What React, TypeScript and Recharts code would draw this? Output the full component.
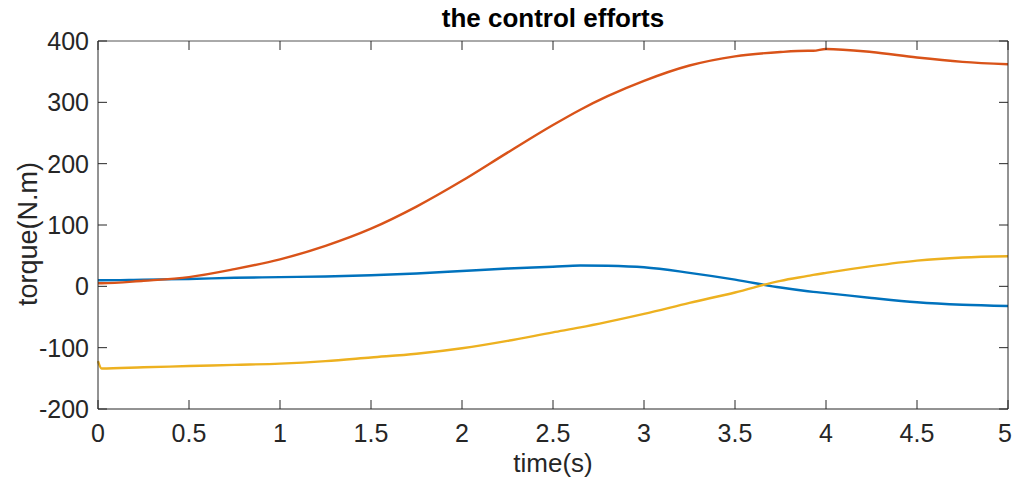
import { LineChart, Line, XAxis, YAxis } from 'recharts'

// time samples (s)
const time = [0, 0.02, 0.25, 0.5, 0.75, 1, 1.25, 1.5, 1.75, 2, 2.25, 2.5, 2.65, 2.8, 3, 3.25, 3.5, 3.75, 3.9, 3.93, 4, 4.25, 4.5, 4.75, 5]
const joint1 = [10, 10, 11, 12, 14, 15, 16, 18, 21, 25, 29, 32, 34, 33.5, 31, 22, 11, -2, -8, -9, -11, -19, -26, -30, -32]
const joint2 = [5, 5, 9, 15, 28, 44, 66, 94, 130, 172, 218, 263, 288, 310, 335, 360, 375, 382, 384, 384, 387, 382, 373, 366, 362]
const joint3 = [-122, -134, -132, -130, -128, -126, -122, -116, -110, -101, -89, -75, -67, -58, -45, -27, -10, 9, 17, 18.6, 22, 33, 42, 47, 49]

const xTicks = [0, 0.5, 1, 1.5, 2, 2.5, 3, 3.5, 4, 4.5, 5]
const yTicks = [-200, -100, 0, 100, 200, 300, 400]

const data = time.map((t, i) => ({ t, q1: joint1[i], q2: joint2[i], q3: joint3[i] }))

const ink = '#262626'
const font = '"Liberation Sans", Arial, sans-serif'
const tickLen = 9

const BottomTick = ({ x, y, payload }: any) => (
  <g>
    <line x1={x} x2={x} y1={y} y2={y - tickLen} stroke={ink} strokeWidth={1} />
    <text x={Math.min(x, 1005)} y={y + 33} textAnchor="middle" fill={ink} fontSize={25} fontFamily={font}>
      {payload.value}
    </text>
  </g>
)

const TopTick = ({ x, y }: any) => (
  <line x1={x} x2={x} y1={y} y2={y + tickLen} stroke={ink} strokeWidth={1} />
)

const LeftTick = ({ x, y, payload }: any) => (
  <g>
    <line x1={x} x2={x + tickLen} y1={y} y2={y} stroke={ink} strokeWidth={1} />
    <text x={x - 9} y={y + 9} textAnchor="end" fill={ink} fontSize={25} fontFamily={font}>
      {payload.value}
    </text>
  </g>
)

const RightTick = ({ x, y }: any) => (
  <line x1={x} x2={x - tickLen} y1={y} y2={y} stroke={ink} strokeWidth={1} />
)

export default function App() {
  return (
    <div style={{ position: 'absolute', left: 0, top: 0, width: 1014, height: 479, background: '#fff', fontFamily: font }}>
      <LineChart width={1014} height={479} data={data} margin={{ top: 0, right: 0, bottom: 0, left: 0 }}>
        <XAxis
          dataKey="t" type="number" domain={[0, 5]} ticks={xTicks} height={70}
          stroke={ink} tickLine={false} tickSize={0} tickMargin={0} tick={<BottomTick />}
        />
        <XAxis
          xAxisId="top" dataKey="t" orientation="top" type="number" domain={[0, 5]} ticks={xTicks} height={41}
          stroke="#555" tickLine={false} tickSize={0} tickMargin={0} tick={<TopTick />}
        />
        <YAxis
          type="number" domain={[-200, 400]} ticks={yTicks} width={98}
          stroke={ink} tickLine={false} tickSize={0} tickMargin={0} tick={<LeftTick />}
        />
        <YAxis
          yAxisId="right" orientation="right" type="number" domain={[-200, 400]} ticks={yTicks} width={6}
          stroke={ink} tickLine={false} tickSize={0} tickMargin={0} tick={<RightTick />}
        />
        <Line type="monotone" dataKey="q1" stroke="#0072BD" strokeWidth={2.4} dot={false} isAnimationActive={false} />
        <Line type="monotone" dataKey="q2" xAxisId="top" yAxisId="right" stroke="#D95319" strokeWidth={2.4} dot={false} isAnimationActive={false} />
        <Line type="monotone" dataKey="q3" stroke="#EDB120" strokeWidth={2.4} dot={false} isAnimationActive={false} />
      </LineChart>
      <div style={{ position: 'absolute', left: 98, width: 910, top: 3, textAlign: 'center', fontSize: 26, fontWeight: 'bold', color: '#000', lineHeight: '30px' }}>
        the control efforts
      </div>
      <div style={{ position: 'absolute', left: 98, width: 910, top: 448, textAlign: 'center', fontSize: 26, color: ink, lineHeight: '30px' }}>
        time(s)
      </div>
      <div style={{ position: 'absolute', left: 28, top: 234, fontSize: 27, color: ink, lineHeight: '30px', whiteSpace: 'nowrap', transform: 'translate(-50%, -50%) rotate(-90deg)' }}>
        torque(N.m)
      </div>
    </div>
  )
}
